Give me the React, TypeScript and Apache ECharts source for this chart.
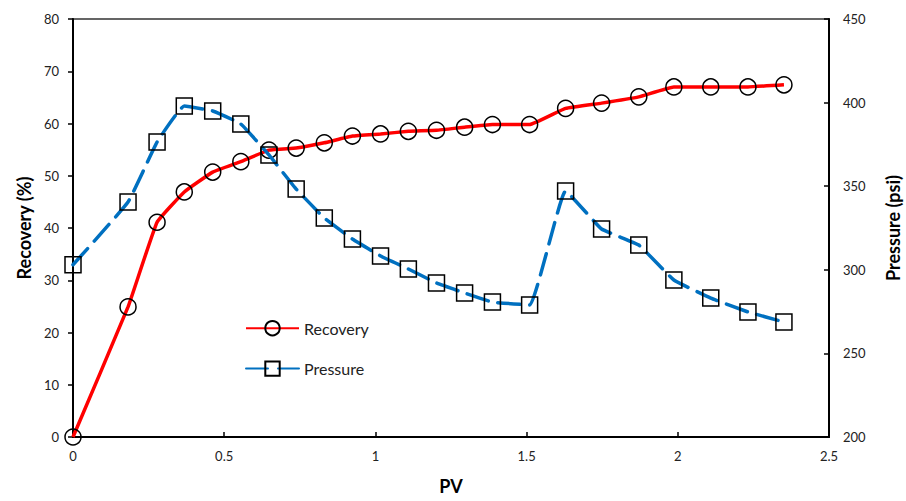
import React, { useEffect, useRef } from "react";
import * as echarts from "echarts";

const pv = [0, 0.182, 0.278, 0.368, 0.462, 0.555, 0.648, 0.738, 0.831, 0.924, 1.017, 1.109, 1.202, 1.295, 1.387, 1.51, 1.629, 1.748, 1.871, 1.987, 2.109, 2.232, 2.351];
const recovery = [0, 24.9, 41.1, 46.9, 50.7, 52.7, 54.9, 55.3, 56.3, 57.6, 58.0, 58.5, 58.7, 59.3, 59.8, 59.8, 62.9, 63.9, 65.1, 67.0, 67.0, 67.0, 67.4];
const pressure = [303, 340.5, 376.4, 398, 395, 387.2, 368.7, 348.3, 331, 318.4, 308.3, 300.5, 292.1, 286.1, 280.7, 279, 347.1, 324.4, 314.8, 293.9, 283.1, 274.8, 268.8];

const FONT = "Lato, 'Open Sans', sans-serif";

export default function App() {
  const ref = useRef<HTMLDivElement>(null);
  useEffect(() => {
    if (!ref.current) return;
    const chart = echarts.init(ref.current, null, { renderer: "svg" });
    const recData = pv.map((x, i) => [x, recovery[i]]);
    const presData = pv.map((x, i) => [x, pressure[i]]);
    chart.setOption({
      animation: false,
      textStyle: { fontFamily: FONT },
      grid: {
        left: 73, right: 77, top: 19, bottom: 64,
        outerBoundsMode: "none",
        containLabel: false,
        show: true, borderColor: "#333", borderWidth: 1.5,
      },
      legend: {
        orient: "vertical",
        left: 240,
        top: 315,
        itemWidth: 53,
        itemHeight: 18,
        itemGap: 24,
        textStyle: { fontFamily: FONT, fontSize: 16, color: "#222" },
        data: ["Recovery", "Pressure"],
      },
      xAxis: {
        type: "value",
        min: 0, max: 2.5, interval: 0.5,
        name: "PV",
        nameLocation: "middle",
        nameGap: 40,
        nameTextStyle: { fontFamily: FONT, fontSize: 18, fontWeight: "bold", color: "#000" },
        axisLine: { show: true, lineStyle: { color: "#000", width: 2 } },
        axisTick: { show: true, inside: true, length: 5, lineStyle: { color: "#000", width: 1.5 } },
        axisLabel: { fontSize: 13, color: "#222", margin: 12, fontFamily: FONT },
        splitLine: { show: false },
      },
      yAxis: [
        {
          type: "value",
          min: 0, max: 80, interval: 10,
          position: "left",
          name: "Recovery (%)",
          nameLocation: "middle",
          nameRotate: 90,
          nameGap: 36,
          nameTextStyle: { fontFamily: FONT, fontSize: 18, fontWeight: "bold", color: "#000" },
          axisLine: { show: true, lineStyle: { color: "#000", width: 2 } },
          axisTick: { show: true, inside: false, length: 5, lineStyle: { color: "#000", width: 1.5 } },
          axisLabel: { fontSize: 13, color: "#222", margin: 14, fontFamily: FONT },
          splitLine: { show: false },
        },
        {
          type: "value",
          min: 200, max: 450, interval: 50,
          position: "right",
          name: "Pressure (psi)",
          nameLocation: "middle",
          nameRotate: 90,
          nameGap: 55,
          nameTextStyle: { fontFamily: FONT, fontSize: 18, fontWeight: "bold", color: "#000" },
          axisLine: { show: true, lineStyle: { color: "#000", width: 2 } },
          axisTick: { show: true, inside: true, length: 5, lineStyle: { color: "#000", width: 1.5 } },
          axisLabel: { fontSize: 13, color: "#222", margin: 14, fontFamily: FONT },
          splitLine: { show: false },
        },
      ],
      series: [
        {
          name: "Recovery",
          type: "line",
          yAxisIndex: 0,
          data: recData,
          smooth: 0.1,
          symbol: "circle",
          symbolSize: 16,
          showAllSymbol: true,
          lineStyle: { color: "#FF0000", width: 3.5 },
          itemStyle: { color: "rgba(255,255,255,0)", borderColor: "#000", borderWidth: 1.5 },
          z: 2,
        },
        {
          name: "Pressure",
          type: "line",
          yAxisIndex: 1,
          data: presData,
          smooth: 0.1,
          symbol: "rect",
          symbolSize: 16,
          showAllSymbol: true,
          lineStyle: { color: "#0070C0", width: 3.5, type: [22, 10], cap: "round" },
          itemStyle: { color: "rgba(255,255,255,0)", borderColor: "#000", borderWidth: 1.5 },
          z: 3,
        },
      ],
    });
    return () => chart.dispose();
  }, []);
  return <div ref={ref} style={{ width: 906, height: 501, position: "absolute", left: 0, top: 0 }} />;
}
